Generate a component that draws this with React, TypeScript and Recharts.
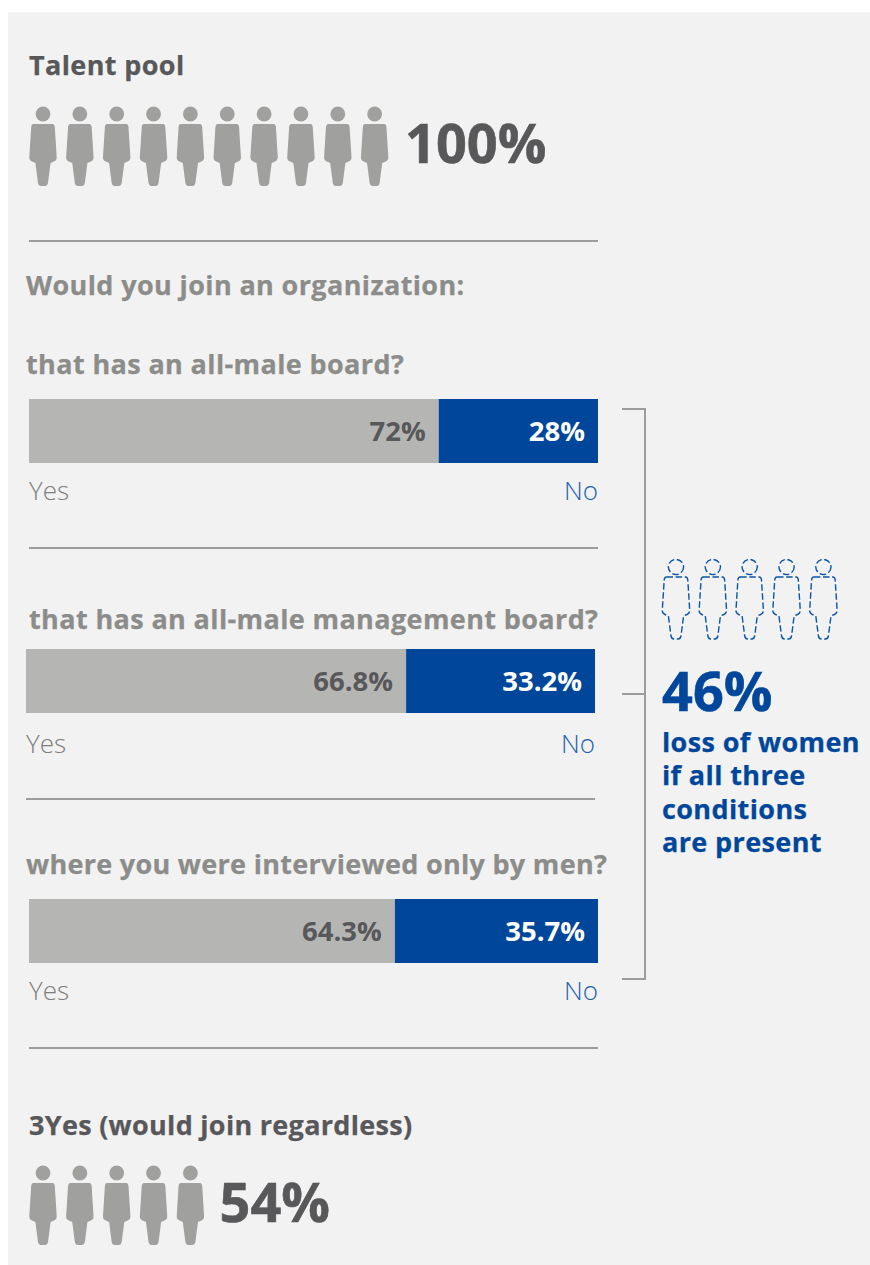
import React from "react";
import { BarChart, Bar, XAxis, YAxis, LabelList, ScatterChart, Scatter } from "recharts";

const questions = [
  "that has an all-male board?",
  "that has an all-male management board?",
  "where you were interviewed only by men?",
];
const yesValues = [72, 66.8, 64.3];
const noValues = [28, 33.2, 35.7];
const yesLabels = ["72%", "66.8%", "64.3%"];
const noLabels = ["28%", "33.2%", "35.7%"];
const talentIcons = [1, 2, 3, 4, 5, 6, 7, 8, 9, 10];
const lostIcons = [1, 2, 3, 4, 5];
const remainIcons = [1, 2, 3, 4, 5];

const FONT = '"Open Sans", sans-serif';
const GREY = "#b5b6b3";
const BLUE = "#00479b";
const DARK = "#58585a";
const MID = "#8c8d8a";
const ICON = "#a0a19e";
const RULE = "#9c9c9a";
const STEP = 36.85;

const bodyPath = (x: number, y: number) =>
  `M${x - 9.5},${y + 10} L${x + 9.5},${y + 10} Q${x + 11.5},${y + 10} ${x + 11.8},${y + 13} L${x + 13.7},${y + 43}
   Q${x + 14},${y + 46} ${x + 11},${y + 47.5} L${x + 7.6},${y + 49} L${x + 5},${y + 69} Q${x + 4.4},${y + 72} ${x + 2},${y + 72}
   L${x - 2},${y + 72} Q${x - 4.4},${y + 72} ${x - 5},${y + 69} L${x - 7.6},${y + 49} L${x - 11},${y + 47.5}
   Q${x - 14},${y + 46} ${x - 13.7},${y + 43} L${x - 11.8},${y + 13} Q${x - 11.5},${y + 10} ${x - 9.5},${y + 10} Z`;

const Person = (props: any) => {
  const { cx, cy, outline } = props;
  const x = cx;
  const y = cy;
  if (outline) {
    return (
      <g fill="none" stroke="#0a55a5" strokeWidth={1.4} strokeDasharray="6.5 2.6">
        <circle cx={x} cy={y} r={7.6} />
        <path d={bodyPath(x, y)} />
      </g>
    );
  }
  return (
    <g fill={ICON}>
      <circle cx={x} cy={y} r={7.4} />
      <path d={bodyPath(x, y)} />
    </g>
  );
};

const People = ({ items, left, top, outline }: { items: number[]; left: number; top: number; outline?: boolean }) => {
  const width = (items.length - 1) * STEP + 40;
  const data = items.map((i) => ({ i, y: 0 }));
  return (
    <div style={{ position: "absolute", left, top }}>
      <ScatterChart width={width} height={90} margin={{ top: 8, right: 20, bottom: 0, left: 20 }}>
        <XAxis type="number" dataKey="i" domain={[1, Math.max(items.length, 2)]} hide />
        <YAxis type="number" dataKey="y" domain={[0, 1]} hide range={[8, 8]} reversed />
        <Scatter data={data} isAnimationActive={false} shape={(p: any) => <Person {...p} cy={8} outline={outline} />} />
      </ScatterChart>
    </div>
  );
};

const Txt = ({ x, y, size, color, weight = 700, children, right, lh, spacing, stroke }: any) => (
  <div
    style={{
      position: "absolute",
      left: right === undefined ? x : undefined,
      right: right === undefined ? undefined : 870 - right,
      top: y,
      fontFamily: FONT,
      fontSize: size,
      fontWeight: weight,
      color,
      letterSpacing: spacing,
      WebkitTextStroke: stroke ? `${stroke}px ${color}` : undefined,
      lineHeight: lh ? `${lh}px` : `${size}px`,
      whiteSpace: "pre",
    }}
  >
    {children}
  </div>
);

const Rule = ({ x, y, w }: { x: number; y: number; w: number }) => (
  <div style={{ position: "absolute", left: x, top: y, width: w, height: 2, background: RULE }} />
);

const StackedRow = ({ index, left, top }: { index: number; left: number; top: number }) => {
  const data = [{ name: questions[index], yes: yesValues[index], no: noValues[index] }];
  const style = { fontFamily: FONT, fontSize: 27.5, fontWeight: 700 };
  return (
    <div style={{ position: "absolute", left, top }}>
      <BarChart
        layout="vertical"
        width={569}
        height={64}
        data={data}
        margin={{ top: 0, right: 0, bottom: 0, left: 0 }}
        barCategoryGap={0}
      >
        <XAxis type="number" domain={[0, 100]} hide />
        <YAxis type="category" dataKey="name" hide />
        <Bar dataKey="yes" stackId="a" fill={GREY} isAnimationActive={false}>
          <LabelList
            dataKey="yes"
            position="insideRight"
            offset={13}
            formatter={() => yesLabels[index]}
            fill={DARK}
            style={style}
          />
        </Bar>
        <Bar dataKey="no" stackId="a" fill={BLUE} isAnimationActive={false}>
          <LabelList
            dataKey="no"
            position="insideRight"
            offset={13}
            formatter={() => noLabels[index]}
            fill="#ffffff"
            style={style}
          />
        </Bar>
      </BarChart>
    </div>
  );
};

const HEAD = { size: 27, spacing: 0.38, stroke: 0.25 };
const HEAD_TIGHT = { size: 27, spacing: 0.3, stroke: 0.25 };
const NO_BLUE = "#1f62ad";
const YES_GREY = "#7d7d7d";

export default function App() {
  return (
    <div style={{ position: "fixed", left: 0, top: 0, width: 870, height: 1265, overflow: "hidden", background: "#ffffff" }}>
      <div style={{ position: "absolute", left: 8, top: 12, width: 862, height: 1253, background: "#f2f2f2" }} />

      <Txt x={29} y={51} {...HEAD} color={DARK}>Talent pool</Txt>
      <People items={talentIcons} left={22.5} top={106} />
      <Txt x={405} y={115} size={54} stroke={0.6} color={DARK}>100%</Txt>
      <Rule x={29} y={240} w={569} />

      <Txt x={26} y={271} {...HEAD} color={MID}>Would you join an organization:</Txt>

      <Txt x={26} y={350} {...HEAD} color={MID}>{questions[0]}</Txt>
      <StackedRow index={0} left={29} top={399} />
      <Txt x={29} y={477} size={26} weight={300} color={YES_GREY}>Yes</Txt>
      <Txt right={598} y={477} size={26} weight={300} color={NO_BLUE}>No</Txt>
      <Rule x={29} y={546.5} w={569} />

      <Txt x={29} y={605} {...HEAD} color={MID}>{questions[1]}</Txt>
      <StackedRow index={1} left={26} top={649} />
      <Txt x={26} y={730} size={26} weight={300} color={YES_GREY}>Yes</Txt>
      <Txt right={595} y={730} size={26} weight={300} color={NO_BLUE}>No</Txt>
      <Rule x={26} y={798} w={569} />

      <Txt x={26} y={850} {...HEAD_TIGHT} color={MID}>{questions[2]}</Txt>
      <StackedRow index={2} left={29} top={899} />
      <Txt x={29} y={977} size={26} weight={300} color={YES_GREY}>Yes</Txt>
      <Txt right={598} y={977} size={26} weight={300} color={NO_BLUE}>No</Txt>
      <Rule x={29} y={1046.5} w={569} />

      <Txt x={29} y={1111} {...HEAD_TIGHT} color={DARK}>3Yes (would join regardless)</Txt>
      <People items={remainIcons} left={22.5} top={1165} />
      <Txt x={219.5} y={1174} size={54} stroke={0.6} color={DARK}>54%</Txt>

      <div style={{ position: "absolute", left: 622, top: 407.5, width: 22, height: 568, boxSizing: "content-box", borderTop: `2px solid ${RULE}`, borderRight: `2px solid ${RULE}`, borderBottom: `2px solid ${RULE}` }} />
      <div style={{ position: "absolute", left: 622, top: 693, width: 23, height: 2, background: RULE }} />

      <People items={lostIcons} left={656} top={559} outline />
      <Txt x={662} y={663} size={54} stroke={0.6} color={BLUE}>46%</Txt>
      <Txt x={662} y={725} size={27} spacing={0.38} stroke={0.25} lh={33.3} color={BLUE}>{"loss of women\nif all three\nconditions\nare present"}</Txt>
    </div>
  );
}
